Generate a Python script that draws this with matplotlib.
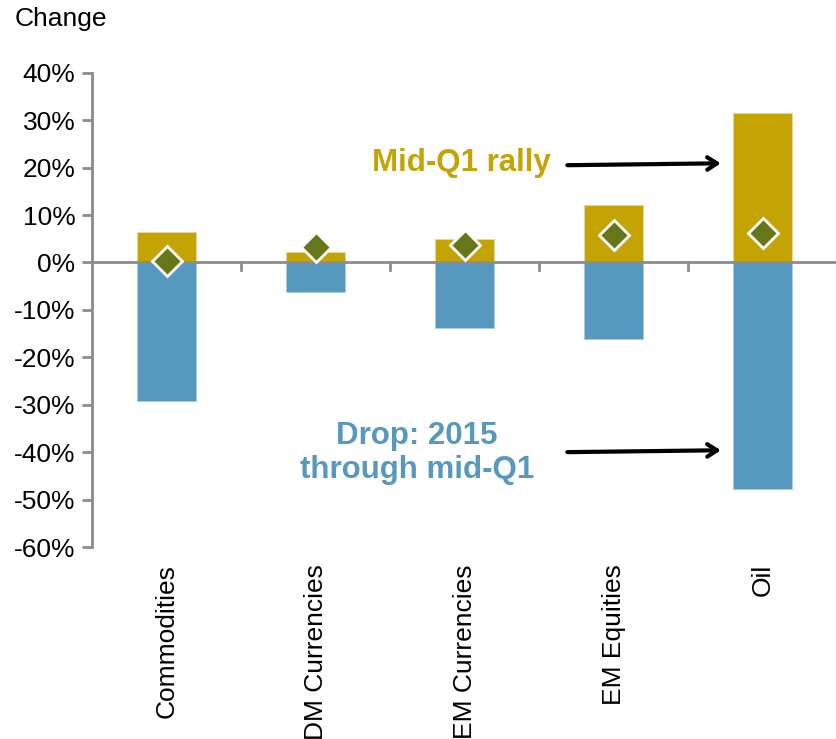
import matplotlib
matplotlib.use("Agg")
import matplotlib.pyplot as plt
from matplotlib.ticker import FuncFormatter, FixedLocator

plt.rcParams['font.family'] = ['Liberation Sans', 'DejaVu Sans']

categories = ["Commodities", "DM Currencies", "EM Currencies", "EM Equities", "Oil"]
rally = [6.5, 2.2, 4.9, 12.2, 31.6]           # Mid-Q1 rally (%)
drop = [-29.2, -6.2, -13.9, -16.2, -47.7]     # Drop: 2015 through mid-Q1 (%)
net = [0.3, 3.2, 3.6, 5.8, 6.2]               # Net change (%)

GOLD = "#C4A305"
BLUE = "#5799BE"
OLIVE = "#68761A"
GRAY = "#8C8C8C"

fig = plt.figure(figsize=(8.37, 7.39), dpi=100)
ax = fig.add_axes([0.110, 0.2598, 0.89, 0.6418])

x = list(range(len(categories)))
ax.bar(x, rally, width=0.4, color=GOLD, edgecolor="#E6D89A", linewidth=0.6, zorder=2)
ax.bar(x, drop, width=0.4, color=BLUE, edgecolor="#A9CBE0", linewidth=0.6, zorder=2)
ax.plot(x, net, linestyle="none", marker="D", markersize=15.5,
        markerfacecolor=OLIVE, markeredgecolor="white", markeredgewidth=2, zorder=4)

ax.set_xlim(-0.5, 4.5)
ax.set_ylim(-60, 40)
ax.axhline(0, color=GRAY, linewidth=2, zorder=3)

for side in ("top", "right", "bottom"):
    ax.spines[side].set_visible(False)
ax.spines["left"].set_color(GRAY)
ax.spines["left"].set_linewidth(2)

ax.yaxis.set_major_locator(FixedLocator(range(-60, 41, 10)))
ax.yaxis.set_major_formatter(FuncFormatter(lambda v, p: f"{int(v)}%"))
ax.tick_params(axis="y", length=7, width=2, color=GRAY, labelsize=19, pad=5)

# category labels below the plot, boundary ticks on the zero line
ax.set_xticks([])
for xi, name in zip(x, categories):
    ax.text(xi, -63.6, name, rotation=90, ha="center", va="top", fontsize=19)
for b in [0.5, 1.5, 2.5, 3.5]:
    ax.plot([b, b], [0, -1.6], color=GRAY, linewidth=2, zorder=3, clip_on=False)

fig.text(0.017, 0.99, "Change", fontsize=19, ha="left", va="top")

ax.text(2.58, 21.0, "Mid-Q1 rally", color=GOLD, fontsize=22.5, fontweight="bold",
        ha="right", va="center")
ax.annotate("", xy=(3.72, 20.9), xytext=(2.69, 20.5),
            arrowprops=dict(arrowstyle="->,head_length=0.7,head_width=0.45",
                            color="black", lw=3, shrinkA=0, shrinkB=0))

ax.text(1.68, -40.2, "Drop: 2015\nthrough mid-Q1", color=BLUE, fontsize=22.5,
        fontweight="bold", ha="center", va="center", linespacing=1.2)
ax.annotate("", xy=(3.72, -39.6), xytext=(2.69, -40.0),
            arrowprops=dict(arrowstyle="->,head_length=0.7,head_width=0.45",
                            color="black", lw=3, shrinkA=0, shrinkB=0))

fig.savefig("out.png", dpi=100)
